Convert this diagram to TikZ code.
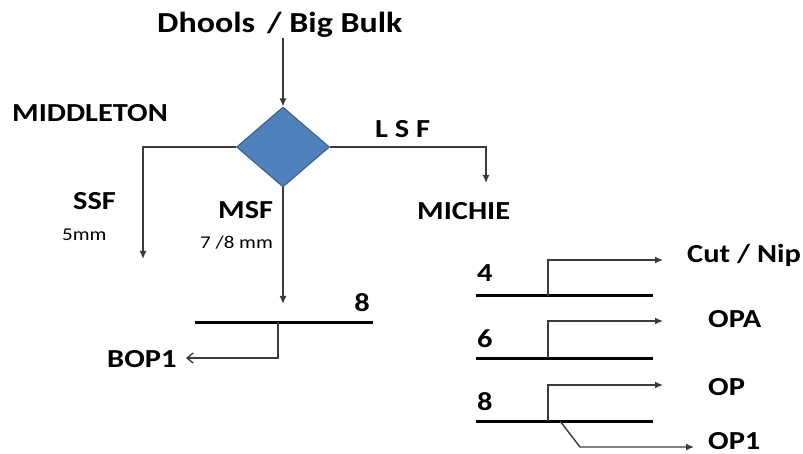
\documentclass[tikz,border=0pt]{standalone}
\usepackage{fontspec}
\setmainfont{Carlito}[FakeStretch=1.17]
\usetikzlibrary{shapes.geometric,arrows.meta}
\definecolor{boxblue}{HTML}{4F81BD}
\definecolor{boxedge}{HTML}{385D8A}
\definecolor{wire}{HTML}{3A3A3A}
\tikzset{
  lbl/.style={inner sep=0pt, font=\fontsize{26}{30}\selectfont\bfseries, anchor=base west},
  title/.style={lbl, font=\fontsize{29}{33}\selectfont\bfseries},
  small/.style={inner sep=0pt, font=\fontsize{18}{21}\selectfont, anchor=base west},
  wireline/.style={draw=wire, line width=1.4pt},
  flow/.style={wireline, -{Latex[length=8pt,width=7pt]}},
  openflow/.style={wireline, -{Straight Barb[length=6pt,width=10pt]}},
  bar/.style={draw=black, line width=3pt},
}
\begin{document}
\begin{tikzpicture}[x=1pt,y=-1pt]
\useasboundingbox (0,0) rectangle (803,454);

% decision diamond
\node[diamond, draw=boxedge, fill=boxblue, line width=1pt, minimum width=93pt, minimum height=80pt, inner sep=0pt] (dec) at (283,147) {};

% labels
\node[title] (src) at (157,33) {Dhools\hspace{12pt}/ Big Bulk};
\node[lbl] (mid) at (12,122) {MIDDLETON};
\node[lbl] (ssf) at (73,210) {SSF};
\node[small] (ssfmm) at (62,241) {5mm};
\node[lbl] (msf) at (218,219) {MSF};
\node[small] (msfmm) at (200,249) {7 /8 mm};
\node[lbl] (lsf) at (375,138) {L S F};
\node[lbl] (mich) at (417,220) {MICHIE};

% top feed
\coordinate (srcb) at (283,38);
\draw[flow] (srcb) -- (dec.north);

% left branch
\coordinate (lc) at (143,147);
\coordinate (lend) at (143,259);
\draw[flow] (dec.west) -- (lc) -- (lend);

% right branch
\coordinate (rc) at (486,147);
\coordinate (rend) at (486,183);
\draw[flow] (dec.east) -- (rc) -- (rend);

% middle branch onto bar
\coordinate (mend) at (283,304);
\draw[flow] (dec.south) -- (mend);

% bottom-left screen bar
\coordinate (b8l) at (195,322);
\coordinate (b8r) at (373,322);
\draw[bar] (b8l) -- (b8r);
\node[lbl, anchor=base] (n8a) at (362,312) {8};
\coordinate (bj) at (278,322);
\coordinate (bk) at (278,358);
\coordinate (bend) at (186,358);
\draw[openflow] (bj) -- (bk) -- (bend);
\node[lbl] (bop) at (107,367) {BOP1};

% right-hand screen bars
\foreach \nm/\yb/\ya/\num in {s4/296/260/4, s6/358/321/6, s8/421/385/8}{
  \coordinate (\nm l) at (476,\yb);
  \coordinate (\nm r) at (653,\yb);
  \draw[bar] (\nm l) -- (\nm r);
  \coordinate (\nm j) at (548,\yb);
  \coordinate (\nm k) at (548,\ya);
  \coordinate (\nm e) at (663,\ya);
  \draw[flow] (\nm j) -- (\nm k) -- (\nm e);
}
\node[lbl] (n4) at (477,282) {4};
\node[lbl] (n6) at (477,347) {6};
\node[lbl] (n8b) at (477,410) {8};

\node[lbl] (cut) at (687,263) {Cut / Nip};
\node[lbl] (opa) at (708,327) {OPA};
\node[lbl] (op) at (708,395) {OP};
\node[lbl] (op1) at (708,449) {OP1};

% second outlet from the 8 bar
\coordinate (oj) at (560,421);
\coordinate (ok) at (580,447);
\coordinate (oe) at (694,447);
\draw[flow] (oj) -- (ok) -- (oe);
\end{tikzpicture}
\end{document}
